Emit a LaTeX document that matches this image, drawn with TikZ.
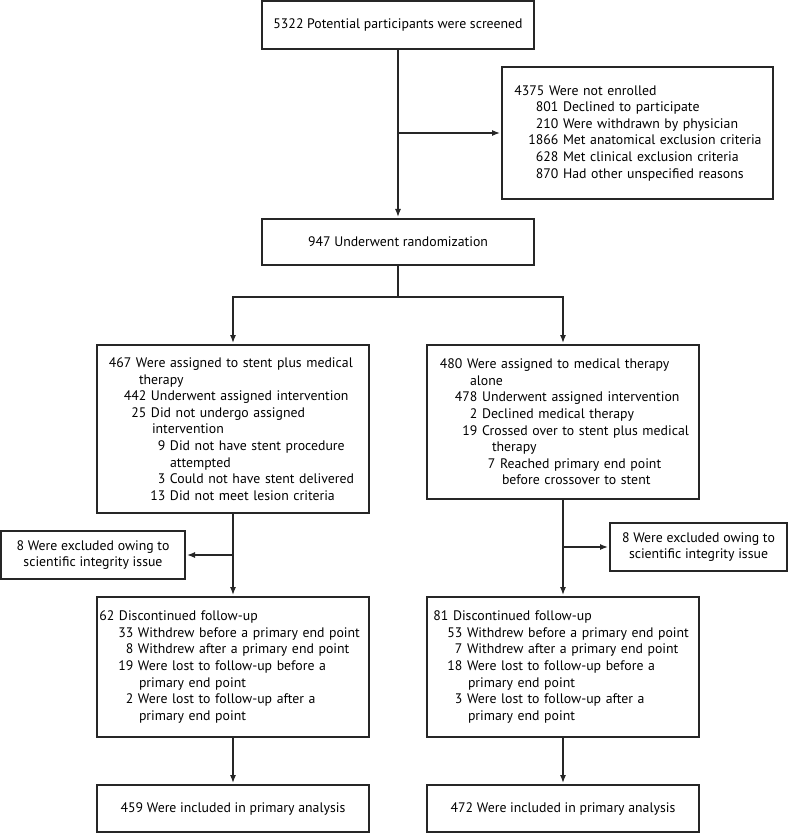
\documentclass[tikz,border=0pt]{standalone}
\usepackage{fontspec}
\setmainfont{PT Sans}
\usetikzlibrary{arrows.meta}
\newcommand\rw[3]{\mbox{\makebox[#1][r]{#2\ }#3}}
\newcommand\cn[2]{\mbox{\hspace*{#1}#2}}
\begin{document}
\begin{tikzpicture}[x=1pt,y=-1pt,
  box/.style={draw=black!85, line width=1.3pt, inner ysep=0pt, outer sep=0pt, anchor=north west,
    font=\fontsize{13.8}{16.6}\selectfont},
  lbox/.style={box, align=left},
  cbox/.style={box, align=center},
  ln/.style={draw=black!85, line width=1.3pt, line join=miter},
  arr/.style={ln, shorten >=2pt, -{Latex[length=8pt,width=6pt]}}]
\useasboundingbox (0,0) rectangle (795,834);

\node[cbox, minimum width=272pt, minimum height=48pt] (a) at (262,1)
  {5322 Potential participants were screened};

\node[lbox, minimum width=271pt, minimum height=132pt, inner xsep=13pt, text width=245pt] (c) at (502,67)
  {\rw{34pt}{4375}{Were not enrolled}\\
   \rw{48pt}{801}{Declined to participate}\\
   \rw{48pt}{210}{Were withdrawn by physician}\\
   \rw{48pt}{1866}{Met anatomical exclusion criteria}\\
   \rw{48pt}{628}{Met clinical exclusion criteria}\\
   \rw{48pt}{870}{Had other unspecified reasons}};

\node[cbox, minimum width=272pt, minimum height=46pt] (b) at (262,219)
  {947 Underwent randomization};

\node[lbox, minimum width=272pt, minimum height=168pt, inner xsep=13pt, text width=246pt] (d) at (97,345)
  {\rw{26pt}{467}{Were assigned to stent plus medical}\\
   \cn{29pt}{therapy}\\
   \rw{41pt}{442}{Underwent assigned intervention}\\
   \rw{41pt}{25}{Did not undergo assigned}\\
   \cn{42pt}{intervention}\\
   \rw{60pt}{9}{Did not have stent procedure}\\
   \cn{60pt}{attempted}\\
   \rw{60pt}{3}{Could not have stent delivered}\\
   \rw{60pt}{13}{Did not meet lesion criteria}};

\node[lbox, minimum width=272pt, minimum height=154pt, inner xsep=14pt, text width=244pt] (e) at (427,345)
  {\rw{26pt}{480}{Were assigned to medical therapy}\\
   \cn{29pt}{alone}\\
   \rw{41pt}{478}{Underwent assigned intervention}\\
   \rw{41pt}{2}{Declined medical therapy}\\
   \rw{41pt}{19}{Crossed over to stent plus medical}\\
   \cn{51pt}{therapy}\\
   \rw{59pt}{7}{Reached primary end point}\\
   \cn{61pt}{before crossover to stent}};

\node[cbox, minimum width=184pt, minimum height=48pt] (g) at (1,531)
  {8 Were excluded owing to\\scientific integrity issue};

\node[cbox, minimum width=177pt, minimum height=48pt] (h) at (610,523)
  {8 Were excluded owing to\\scientific integrity issue};

\node[lbox, minimum width=272pt, minimum height=140pt, inner xsep=3pt, text width=266pt] (f) at (97,597)
  {\rw{19pt}{62}{Discontinued follow-up}\\
   \rw{38pt}{33}{Withdrew before a primary end point}\\
   \rw{38pt}{8}{Withdrew after a primary end point}\\
   \rw{38pt}{19}{Were lost to follow-up before a}\\
   \cn{39pt}{primary end point}\\
   \rw{38pt}{2}{Were lost to follow-up after a}\\
   \cn{39pt}{primary end point}};

\node[lbox, minimum width=272pt, minimum height=140pt, inner xsep=6pt, text width=260pt] (i) at (427,597)
  {\rw{20pt}{81}{Discontinued follow-up}\\
   \rw{34pt}{53}{Withdrew before a primary end point}\\
   \rw{34pt}{7}{Withdrew after a primary end point}\\
   \rw{34pt}{18}{Were lost to follow-up before a}\\
   \cn{35pt}{primary end point}\\
   \rw{34pt}{3}{Were lost to follow-up after a}\\
   \cn{35pt}{primary end point}};

\node[cbox, minimum width=272pt, minimum height=47pt] (j) at (97,785)
  {459 Were included in primary analysis};

\node[cbox, minimum width=272pt, minimum height=47pt] (k) at (427,785)
  {472 Were included in primary analysis};

% connectors
\draw[arr] (a.south) -- (b.north);
\coordinate (ac) at (a.south |- c.west);
\draw[arr] (ac) -- (c.west);
\coordinate (bj) at (398,297);
\coordinate (dj) at (d.north |- bj);
\coordinate (ej) at (e.north |- bj);
\draw[ln] (b.south) -- (bj);
\draw[arr] (bj) -- (dj) -- (d.north);
\draw[arr] (bj) -- (ej) -- (e.north);
\draw[arr] (d.south) -- (f.north);
\coordinate (dg) at (d.south |- g.east);
\draw[arr] (dg) -- (g.east);
\draw[arr] (e.south) -- (i.north);
\coordinate (eh) at (e.south |- h.west);
\draw[arr] (eh) -- (h.west);
\draw[arr] (f.south) -- (j.north);
\draw[arr] (i.south) -- (k.north);
\end{tikzpicture}
\end{document}
